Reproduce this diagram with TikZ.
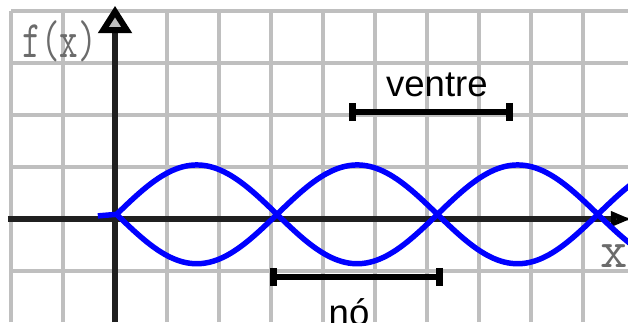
\documentclass[tikz,border=0pt]{standalone}
\usepackage{fontspec}
\setsansfont{Liberation Sans}
\usetikzlibrary{arrows.meta}
\begin{document}
\begin{tikzpicture}[
  every node/.style={inner sep=0pt},
  axis/.style={line width=3.3pt,draw={rgb,255:red,32;green,32;blue,32}},
  wave/.style={line width=3pt,blue},
  span/.style={line width=3.8pt,{Bar[width=10pt]}-{Bar[width=10pt]}},
  lbl/.style={font=\sffamily\fontsize{20}{20}\selectfont},
  axlbl/.style={text=black!58,font=\ttfamily\fontsize{29}{29}\selectfont}]
\useasboundingbox (-2.212,-1.981) rectangle (9.865,4.212);
\clip (-2.212,-1.981) rectangle (9.865,4.212);
% grid
\draw[line width=1.9pt,black!25,step=1] (-2,-1.981) grid (9.865,4);
% axes
\coordinate (xs) at (-2.06,0); \coordinate (xe) at (9.92,0);
\coordinate (ys) at (0,-1.981); \coordinate (ye) at (0,4.1);
\draw[axis,-{Triangle[width=8pt,length=11pt,color=black,fill=black!25]}] (xs) -- (xe);
\draw[axis,-{Triangle[width=18pt,length=15pt,color=black,fill=black!25]}] (ys) -- (ye);
\node[axlbl] (fx) at (-1.06,3.42) {\scalebox{.68}[1]{f(x)}};
\node[axlbl] (xlbl) at (9.6,-0.72) {x};
% standing wave
\draw[wave] (-0.33,0.06) -- plot[domain=0.03:9.95,samples=150] (\x,{0.09+0.95*sin(180*(\x-0.03)/3.085)});
\draw[wave] plot[domain=0.03:9.95,samples=150] (\x,{0.09-0.95*sin(180*(\x-0.03)/3.085)});
% ventre / no
\coordinate (v1) at (4.5,2.058); \coordinate (v2) at (7.654,2.058);
\draw[span] (v1) -- (v2);
\node[lbl,anchor=base] (ventre) at (6.19,2.35) {ventre};
\coordinate (n1) at (2.98,-1.115); \coordinate (n2) at (6.31,-1.115);
\draw[span] (n1) -- (n2);
\node[lbl,anchor=base] (no) at (4.5,-2.04) {nó};
\end{tikzpicture}
\end{document}
